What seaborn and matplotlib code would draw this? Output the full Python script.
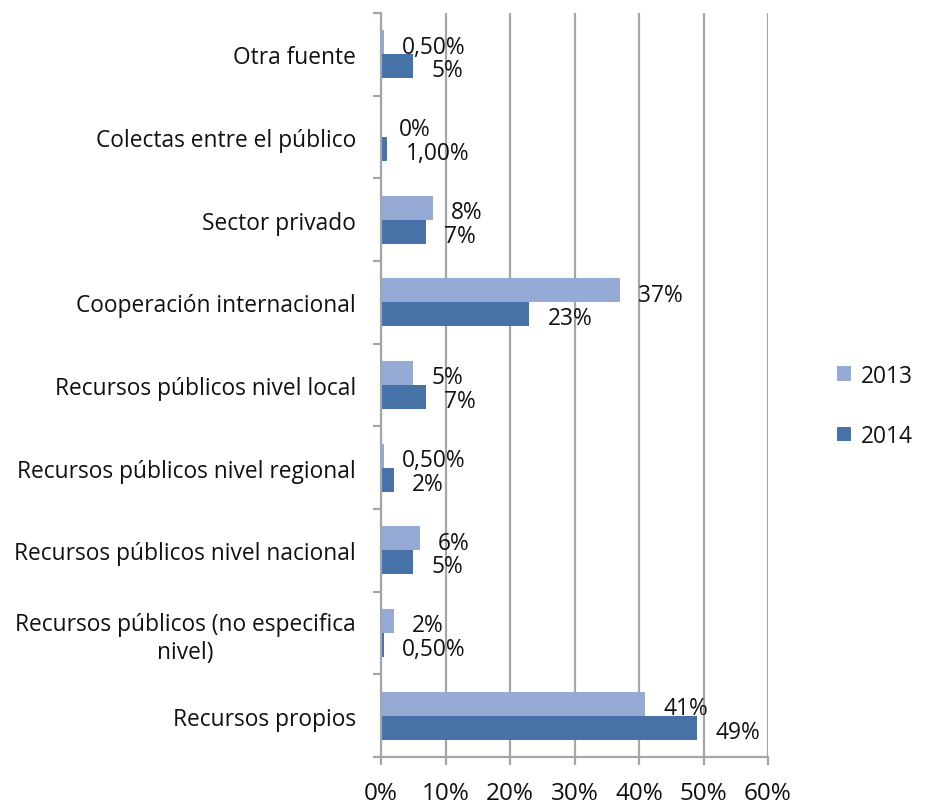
import pandas as pd
import seaborn as sns
import matplotlib.pyplot as plt
from matplotlib.ticker import FixedLocator, PercentFormatter

# Data (percent)
categories = [
    'Otra fuente',
    'Colectas entre el público',
    'Sector privado',
    'Cooperación internacional',
    'Recursos públicos nivel local',
    'Recursos públicos nivel regional',
    'Recursos públicos nivel nacional',
    'Recursos públicos (no especifica\nnivel)',
    'Recursos propios',
]
values_2013 = [0.5, 0, 8, 37, 5, 0.5, 6, 2, 41]
values_2014 = [5, 1, 7, 23, 7, 2, 5, 0.5, 49]
labels_2013 = ['0,50%', '0%', '8%', '37%', '5%', '0,50%', '6%', '2%', '41%']
labels_2014 = ['5%', '1,00%', '7%', '23%', '7%', '2%', '5%', '0,50%', '49%']
years = ['2013', '2014']
x_ticks = [0, 10, 20, 30, 40, 50, 60]

df = pd.DataFrame({
    'categoria': categories * 2,
    'valor': values_2013 + values_2014,
    'year': [years[0]] * len(categories) + [years[1]] * len(categories),
})

sns.set_style('white')
plt.rcParams['font.family'] = ['Open Sans', 'DejaVu Sans']

grey = '#A6A6A6'
fig, ax = plt.subplots(figsize=(9.28, 8.04), dpi=100)
fig.subplots_adjust(left=0.4106, right=0.8276, top=0.9826, bottom=0.0572)

sns.barplot(data=df, x='valor', y='categoria', hue='year', orient='h',
            palette=['#95AAD5', '#4672A8'], width=0.58, ax=ax, saturation=1,
            linewidth=0)

for cont, labs in zip(ax.containers, [labels_2013, labels_2014]):
    anns = ax.bar_label(cont, labels=labs, padding=13, fontsize=16.4, color='#111111')
    for a in anns:
        a.xyann = (13, -3)  # labels sit a bit lower than the bar centre

ax.set_xlim(0, 60)
ax.set_ylim(len(categories) - 0.5, -0.5)
ax.xaxis.set_major_locator(FixedLocator(x_ticks))
ax.xaxis.set_major_formatter(PercentFormatter(decimals=0))
ax.grid(axis='x', color=grey, linewidth=1.6)
ax.set_axisbelow(True)
ax.set_xlabel('')
ax.set_ylabel('')

for s in ['top', 'right']:
    ax.spines[s].set_visible(False)
for s in ['left', 'bottom']:
    ax.spines[s].set_color(grey)
    ax.spines[s].set_linewidth(1.6)

# category boundary ticks on the y axis
ax.yaxis.set_minor_locator(FixedLocator([i - 0.5 for i in range(len(categories) + 1)]))
ax.tick_params(axis='y', which='major', length=0, pad=18, labelsize=16.4, labelcolor='#111111')
ax.tick_params(axis='y', which='minor', left=True, length=6, width=1.6, color=grey)
ax.tick_params(axis='x', bottom=True, length=6, width=1.6, color=grey, pad=11,
               labelsize=17.5, labelcolor='#111111')
for lab in ax.get_yticklabels():
    lab.set_multialignment('center')

leg = ax.legend(loc='center left', bbox_to_anchor=(0.88, 0.494), bbox_transform=fig.transFigure,
                frameon=False, fontsize=16.4, handlelength=0.6, handleheight=0.6,
                handletextpad=0.45, labelspacing=1.6, title=None)
for t in leg.get_texts():
    t.set_color('#111111')

fig.savefig('out.png', dpi=100)
